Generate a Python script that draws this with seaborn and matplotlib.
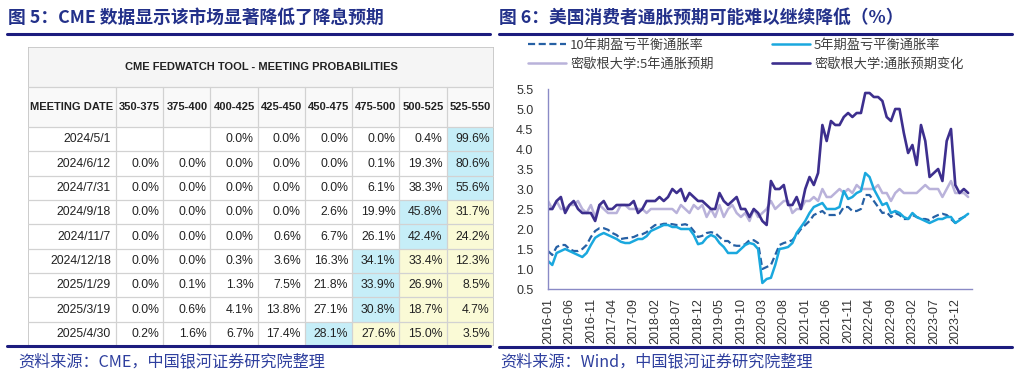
import numpy as np
import pandas as pd
import matplotlib
matplotlib.use('Agg')
import matplotlib.pyplot as plt
import seaborn as sns
from matplotlib.patches import Rectangle
from matplotlib.lines import Line2D

# --- table data (CME FedWatch) ---
meeting_dates = ['2024/5/1', '2024/6/12', '2024/7/31', '2024/9/18', '2024/11/7',
                 '2024/12/18', '2025/1/29', '2025/3/19', '2025/4/30']
rate_ranges = ['350-375', '375-400', '400-425', '425-450', '450-475', '475-500', '500-525', '525-550']
probs = [
    [None, None, 0.0, 0.0, 0.0, 0.0, 0.4, 99.6],
    [0.0, 0.0, 0.0, 0.0, 0.0, 0.1, 19.3, 80.6],
    [0.0, 0.0, 0.0, 0.0, 0.0, 6.1, 38.3, 55.6],
    [0.0, 0.0, 0.0, 0.0, 2.6, 19.9, 45.8, 31.7],
    [0.0, 0.0, 0.0, 0.6, 6.7, 26.1, 42.4, 24.2],
    [0.0, 0.0, 0.3, 3.6, 16.3, 34.1, 33.4, 12.3],
    [0.0, 0.1, 1.3, 7.5, 21.8, 33.9, 26.9, 8.5],
    [0.0, 0.6, 4.1, 13.8, 27.1, 30.8, 18.7, 4.7],
    [0.2, 1.6, 6.7, 17.4, 28.1, 27.6, 15.0, 3.5],
]

# --- line chart data (monthly, 2016-01 .. 2024-03) ---
months = pd.period_range('2016-01', '2024-03', freq='M')
be10 = [1.45, 1.35, 1.55, 1.60, 1.60, 1.50, 1.45, 1.45, 1.50, 1.60, 1.80, 1.95,
        2.02, 2.02, 1.98, 1.90, 1.85, 1.75, 1.77, 1.78, 1.80, 1.85, 1.87, 1.92,
        2.02, 2.10, 2.10, 2.13, 2.13, 2.12, 2.10, 2.10, 2.12, 2.08, 1.95, 1.80,
        1.83, 1.90, 1.92, 1.90, 1.80, 1.70, 1.70, 1.60, 1.58, 1.58, 1.62, 1.72,
        1.72, 1.65, 1.00, 1.05, 1.10, 1.35, 1.60, 1.65, 1.68, 1.72, 1.85, 2.00,
        2.10, 2.20, 2.35, 2.40, 2.45, 2.35, 2.35, 2.35, 2.38, 2.55, 2.55, 2.45,
        2.45, 2.50, 2.85, 2.85, 2.70, 2.55, 2.40, 2.42, 2.30, 2.40, 2.35, 2.25,
        2.25, 2.35, 2.30, 2.25, 2.25, 2.22, 2.30, 2.35, 2.38, 2.35, 2.25, 2.15,
        2.25, 2.30, 2.32]
be5 = [1.20, 1.10, 1.40, 1.45, 1.50, 1.45, 1.40, 1.35, 1.30, 1.40, 1.60, 1.78,
       1.85, 1.90, 1.85, 1.80, 1.75, 1.68, 1.65, 1.65, 1.70, 1.75, 1.75, 1.82,
       1.95, 2.00, 2.05, 2.10, 2.10, 2.05, 2.05, 2.00, 2.00, 2.00, 1.85, 1.62,
       1.65, 1.78, 1.85, 1.80, 1.65, 1.55, 1.40, 1.40, 1.40, 1.50, 1.60, 1.65,
       1.62, 1.50, 0.65, 0.75, 0.78, 1.10, 1.50, 1.52, 1.55, 1.65, 1.90, 2.05,
       2.20, 2.40, 2.55, 2.60, 2.65, 2.50, 2.50, 2.50, 2.55, 2.95, 2.75, 2.80,
       2.90, 2.95, 3.40, 3.30, 3.00, 2.80, 2.60, 2.65, 2.40, 2.45, 2.40, 2.30,
       2.25, 2.40, 2.30, 2.25, 2.20, 2.15, 2.20, 2.25, 2.25, 2.30, 2.30, 2.15,
       2.22, 2.30, 2.38]
mich5 = [2.7, 2.5, 2.7, 2.5, 2.5, 2.6, 2.6, 2.7, 2.5, 2.4, 2.6, 2.3,
         2.6, 2.5, 2.4, 2.4, 2.4, 2.6, 2.6, 2.5, 2.5, 2.5, 2.5, 2.4,
         2.5, 2.5, 2.5, 2.5, 2.5, 2.5, 2.4, 2.6, 2.5, 2.4, 2.6, 2.5,
         2.6, 2.3, 2.5, 2.3, 2.6, 2.3, 2.5, 2.6, 2.4, 2.3, 2.4, 2.2,
         2.5, 2.3, 2.4, 2.5, 2.7, 2.5, 2.6, 2.7, 2.7, 2.4, 2.5, 2.5,
         2.7, 2.7, 2.8, 2.7, 3.0, 2.8, 2.8, 2.9, 3.0, 2.9, 3.0, 2.9,
         3.1, 3.0, 3.0, 3.0, 3.0, 3.1, 2.9, 2.9, 2.7, 2.9, 3.0, 2.9,
         2.9, 2.9, 2.9, 3.0, 3.1, 3.0, 3.0, 3.0, 2.8, 3.0, 3.2, 2.9,
         2.9, 2.9, 2.8]
mich1 = [2.5, 2.5, 2.7, 2.8, 2.4, 2.6, 2.7, 2.5, 2.4, 2.4, 2.4, 2.2,
         2.6, 2.7, 2.5, 2.5, 2.6, 2.6, 2.6, 2.6, 2.7, 2.4, 2.5, 2.7,
         2.7, 2.7, 2.8, 2.7, 2.8, 3.0, 2.9, 3.0, 2.7, 2.9, 2.8, 2.7,
         2.7, 2.6, 2.5, 2.5, 2.9, 2.7, 2.6, 2.7, 2.8, 2.5, 2.5, 2.3,
         2.5, 2.4, 2.2, 2.1, 3.2, 3.0, 3.0, 3.1, 2.6, 2.6, 2.8, 2.5,
         3.0, 3.3, 3.1, 3.4, 4.6, 4.2, 4.7, 4.6, 4.6, 4.8, 4.9, 4.8,
         4.9, 4.9, 5.4, 5.4, 5.3, 5.3, 5.2, 4.8, 4.7, 5.0, 5.0, 4.4,
         3.9, 4.1, 3.6, 4.6, 4.2, 3.3, 3.4, 3.5, 3.2, 4.2, 4.5, 3.1,
         2.9, 3.0, 2.9]
series_labels = ['10年期盈亏平衡通胀率', '5年期盈亏平衡通胀率', '密歇根大学:5年通胀预期', '密歇根大学:通胀预期变化']

# --- style ---
sns.set_style('white')
plt.rcParams['font.family'] = ['Liberation Sans', 'Noto Sans CJK SC', 'DejaVu Sans']
CJK = ['Noto Sans CJK SC', 'DejaVu Sans']
NAVY = '#23318a'
W, H = 1023, 380

def fx(x):
    return x / W

def fy(y):
    return 1 - y / H

fig = plt.figure(figsize=(W / 100, H / 100), dpi=100)

# titles, rules, sources
fig.text(fx(8), fy(18), '图 5：CME 数据显示该市场显著降低了降息预期', fontsize=12.8,
         fontweight='bold', color=NAVY, va='center', family=CJK)
fig.text(fx(499), fy(18), '图 6：美国消费者通胀预期可能难以继续降低（%）', fontsize=12.8,
         fontweight='bold', color=NAVY, va='center', family=CJK)
for x0, x1, y in [(7, 490, 34), (499, 1012, 34), (7, 490, 346), (499, 1012, 347)]:
    fig.add_artist(Line2D([fx(x0), fx(x1)], [fy(y), fy(y)], lw=2.2, color='#1c1c7e'))
fig.text(fx(18), fy(362), '资料来源：CME，中国银河证券研究院整理', fontsize=11.6,
         color='#2e3f9e', va='center', family=CJK)
fig.text(fx(500), fy(362), '资料来源：Wind，中国银河证券研究院整理', fontsize=11.6,
         color='#2e3f9e', va='center', family=CJK)

# --- table ---
col_w = [88] + [47.25] * len(rate_ranges)
row_h = [40, 40] + [24.33] * len(meeting_dates)
xe = np.concatenate([[0], np.cumsum(col_w)])
ye = np.concatenate([[0], np.cumsum(row_h)])
ax_t = fig.add_axes([fx(28), fy(346), xe[-1] / W, ye[-1] / H])
ax_t.set_xlim(0, xe[-1])
ax_t.set_ylim(ye[-1], 0)
ax_t.axis('off')

grid_c = '#d2d2d2'
txt_c = '#222222'
ax_t.add_patch(Rectangle((0, ye[0]), xe[-1], row_h[0], fc='#f5f5f5', ec='none'))
ax_t.add_patch(Rectangle((0, ye[1]), xe[-1], row_h[1], fc='#f9f9f9', ec='none'))
for i, row in enumerate(probs):
    vals = [v if v is not None else -1 for v in row]
    top = int(np.argmax(vals))
    for j, v in enumerate(row):
        if j == top:
            fc = '#c6eef8'
        elif j > top:
            fc = '#fafad6'
        else:
            fc = 'white'
        ax_t.add_patch(Rectangle((xe[j + 1], ye[i + 2]), col_w[j + 1], row_h[i + 2], fc=fc, ec='none'))
        if v is not None:
            ax_t.text(xe[j + 2] - 4, (ye[i + 2] + ye[i + 3]) / 2, f'{v:.1f}%', ha='right',
                      va='center', fontsize=8.8, color=txt_c)
    ax_t.text(xe[1] - 5, (ye[i + 2] + ye[i + 3]) / 2, meeting_dates[i], ha='right',
              va='center', fontsize=8.8, color=txt_c)

for y in ye[1:-1]:
    ax_t.plot([0, xe[-1]], [y, y], color=grid_c, lw=0.9)
for x in xe[1:-1]:
    ax_t.plot([x, x], [ye[1], ye[-1]], color=grid_c, lw=0.9)
ax_t.add_patch(Rectangle((0, 0), xe[-1], ye[-1], fc='none', ec='#c4c4c4', lw=1.2))

ax_t.text(xe[-1] / 2, row_h[0] / 2, 'CME FEDWATCH TOOL - MEETING PROBABILITIES', ha='center',
          va='center', fontsize=8, fontweight='bold', color=txt_c)
headers = ['MEETING DATE'] + rate_ranges
for j, h in enumerate(headers):
    ax_t.text((xe[j] + xe[j + 1]) / 2, (ye[1] + ye[2]) / 2, h, ha='center', va='center',
              fontsize=8, fontweight='bold', color=txt_c)

# --- line chart ---
ax = fig.add_axes([fx(548), fy(289), (972 - 548) / W, 200 / H])
idx = np.arange(len(months))
df = pd.DataFrame({'idx': idx, 'be10': be10, 'be5': be5, 'mich5': mich5, 'mich1': mich1})

sns.lineplot(data=df, x='idx', y='mich5', color='#b9b2da', lw=1.8, ax=ax)
sns.lineplot(data=df, x='idx', y='be10', color='#2660a4', lw=1.6, ls='--', ax=ax)
ax.lines[-1].set_dashes([3.2, 1.6])
sns.lineplot(data=df, x='idx', y='be5', color='#1aa8de', lw=1.8, ax=ax)
sns.lineplot(data=df, x='idx', y='mich1', color='#3d2f8e', lw=1.9, ax=ax)
l_m5, l_b10, l_b5, l_m1 = ax.lines[:4]

ax.set_xlim(0, 98.9)
ax.set_ylim(0.5, 5.5)
yt = np.arange(0.5, 5.51, 0.5)
ax.set_yticks(yt)
ax.set_yticklabels([f'{v:.1f}' for v in yt])
xt = idx[::5]
ax.set_xticks(xt)
ax.set_xticklabels([str(months[i]) for i in xt], rotation=90)
ax.set_xlabel('')
ax.set_ylabel('')
for s in ['top', 'right']:
    ax.spines[s].set_visible(False)
for s in ['left', 'bottom']:
    ax.spines[s].set_color('#8a8ac6')
    ax.spines[s].set_linewidth(1.0)
ax.tick_params(axis='both', direction='in', length=3, color='#8a8ac6', labelsize=9,
               labelcolor='#333333')
ax.tick_params(axis='y', pad=10.5)
ax.tick_params(axis='x', pad=6.5)

fig.legend([l_b10, l_m5, l_b5, l_m1],
           [series_labels[0], series_labels[2], series_labels[1], series_labels[3]],
           ncol=2, loc='upper left', bbox_to_anchor=(fx(528), fy(39)), frameon=False,
           prop={'family': CJK, 'size': 9.5}, labelcolor='#404040', handlelength=2.9,
           handletextpad=0.3, columnspacing=4.4, labelspacing=0.45, borderpad=0,
           borderaxespad=0)

fig.savefig('out.png', dpi=100)
